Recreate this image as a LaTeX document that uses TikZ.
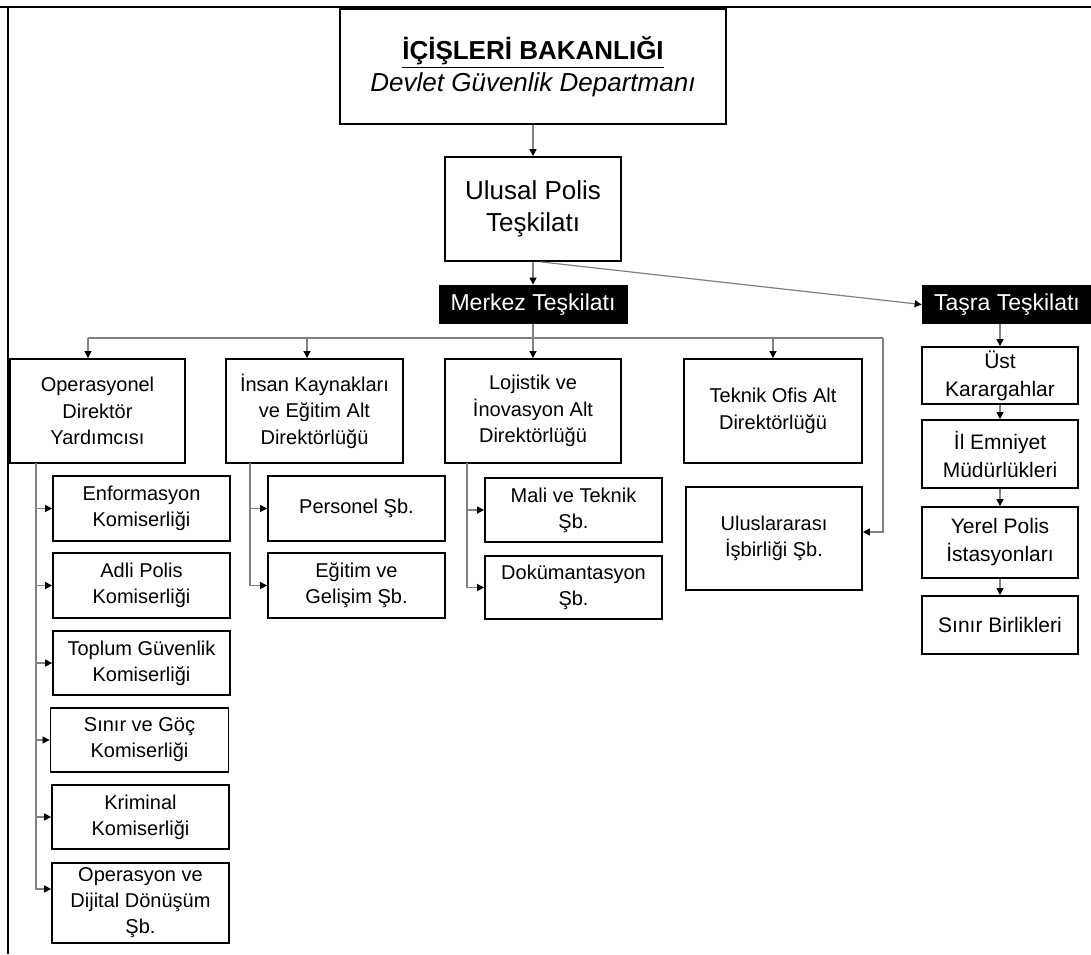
\documentclass[tikz,border=0pt]{standalone}
\usepackage{fontspec}
\setmainfont{Liberation Sans}
\usetikzlibrary{arrows.meta}
\tikzset{
  kutu/.style={draw, line width=0.9pt, align=center, inner sep=1pt, font=\fontsize{10}{13}\selectfont},
  siyah/.style={fill=black, text=white, inner sep=1pt, font=\fontsize{11.5}{13}\selectfont},
  hat/.style={draw=black!50, line width=0.6pt},
  ok/.style={hat, -{Triangle[length=3.5pt, width=3.5pt, color=black]}}
}

\begin{document}
\begin{tikzpicture}[x=0.5pt, y=-0.5pt]
			%%%%% START %%%%%
			\useasboundingbox (0, 0) rectangle (1091, 954);
			
			% frame
			\draw[line width=1pt] (0, 7) -- (1091, 7);
			\draw[line width=1pt] (8, 7) -- (8, 954);
			
			% top
			\node[kutu, minimum width=193pt, minimum height=57.5pt] (bakanlik) at (533, 66.5)
			  {\fontsize{13}{15.5}\selectfont\underline{\textbf{İÇİŞLERİ BAKANLIĞI}}\\[1pt]
			   \fontsize{13}{15.5}\selectfont\textit{Devlet Güvenlik Departmanı}};
			\node[kutu, minimum width=88pt, minimum height=52pt, font=\fontsize{13}{16}\selectfont] (ulusal) at (533, 209) {Ulusal Polis\\Teşkilatı};
			\node[siyah, minimum width=94.5pt, minimum height=19.5pt] (merkez) at (533, 304.5) {Merkez Teşkilatı};
			\node[siyah, minimum width=85pt, minimum height=19.5pt] (tasra) at (1007, 304.5) {Taşra Teşkilatı};
			
			\draw[ok] (bakanlik) -- (ulusal);
			\draw[ok] (ulusal) -- (merkez);
			\draw[ok] ([xshift=4pt]ulusal.south) -- (tasra.west);
			
			% merkez
			\node[kutu, minimum width=87.5pt, minimum height=52pt, font=\fontsize{10}{13.25}\selectfont] (opdir) at (97.5, 411) {Operasyonel\\Direktör\\Yardımcısı};
			\node[kutu, minimum width=88.5pt, minimum height=52pt, font=\fontsize{10}{13.25}\selectfont] (insan) at (314.5, 411) {İnsan Kaynakları\\ve Eğitim Alt\\Direktörlüğü};
			\node[kutu, minimum width=88pt, minimum height=52pt, font=\fontsize{10}{13.25}\selectfont] (lojistik) at (533, 411) {Lojistik ve\\İnovasyon Alt\\Direktörlüğü};
			\node[kutu, minimum width=89pt, minimum height=52pt, font=\fontsize{10}{13.25}\selectfont] (teknik) at (773, 411) {Teknik Ofis Alt\\Direktörlüğü};
			\node[kutu, minimum width=88pt, minimum height=51.5pt, font=\fontsize{10}{13.25}\selectfont] (ulus) at (774, 538.5) {Uluslararası\\İşbirliği Şb.};
			
			\coordinate (busL) at (88, 338);
			\coordinate (busR) at (883, 338);
			\coordinate (insanIn) at ([xshift=-3.75pt]insan.north);
			\draw[hat] (busL) -- (busR);
			\draw[ok] (merkez) -- (lojistik);
			\draw[ok] (busL) -- (busL |- opdir.north);
			\draw[ok] (insanIn |- busL) -- (insanIn);
			\draw[ok] (teknik.north |- busL) -- (teknik);
			\draw[ok] (busR) |- ([yshift=3.25pt]ulus.east);
			
			% operasyonel
			\node[kutu, minimum width=88.5pt, minimum height=32.5pt] (enf) at (141.5, 508.5) {Enformasyon\\Komiserliği};
			\node[kutu, minimum width=88.5pt, minimum height=32.5pt] (adli) at (141.5, 585.5) {Adli Polis\\Komiserliği};
			\node[kutu, minimum width=88.5pt, minimum height=32pt] (toplum) at (141.5, 663) {Toplum Güvenlik\\Komiserliği};
			\node[kutu, minimum width=89pt, minimum height=32pt] (sinir) at (139.5, 740) {Sınır ve Göç\\Komiserliği};
			\node[kutu, minimum width=88.5pt, minimum height=32pt] (kriminal) at (140.5, 817) {Kriminal\\Komiserliği};
			\node[kutu, minimum width=88.5pt, minimum height=40pt] (dijital) at (140.5, 903) {Operasyon ve\\Dijital Dönüşüm\\Şb.};
			
			\coordinate (opT) at (36, 463);
			\draw[ok] (opT) |- ([yshift=7pt]dijital.west);
			\foreach \k in {enf, adli, toplum, sinir, kriminal}
			  \draw[ok] (opT |- \k.west) -- (\k.west);
			
			% insan kaynaklari
			\node[kutu, minimum width=88.5pt, minimum height=32.5pt] (personel) at (356.5, 508.5) {Personel Şb.};
			\node[kutu, minimum width=88.5pt, minimum height=32.5pt] (egitim) at (356.5, 585.5) {Eğitim ve\\Gelişim Şb.};
			
			\coordinate (insT) at (250, 463);
			\draw[ok] (insT) |- (egitim.west);
			\draw[ok] (insT |- personel.west) -- (personel.west);
			
			% lojistik
			\node[kutu, minimum width=88.5pt, minimum height=32pt] (mali) at (573.5, 510) {Mali ve Teknik\\Şb.};
			\node[kutu, minimum width=88.5pt, minimum height=31.5pt] (dokuman) at (573.5, 587.5) {Dokümantasyon\\Şb.};
			
			\coordinate (lojT) at (467, 463);
			\draw[ok] (lojT) |- (dokuman.west);
			\draw[ok] (lojT |- mali.west) -- (mali.west);
			
			% tasra
			\node[kutu, minimum width=78pt, minimum height=28.5pt, font=\fontsize{10.5}{14}\selectfont] (ust) at (1000, 375.5) {Üst\\Karargahlar};
			\node[kutu, minimum width=78pt, minimum height=34pt, font=\fontsize{10.5}{14}\selectfont] (il) at (1000, 454) {İl Emniyet\\Müdürlükleri};
			\node[kutu, minimum width=78pt, minimum height=35.5pt, font=\fontsize{10.5}{14}\selectfont] (yerel) at (1000, 542.5) {Yerel Polis\\İstasyonları};
			\node[kutu, minimum width=78pt, minimum height=29pt, font=\fontsize{10.5}{14}\selectfont] (sinirb) at (1000, 625) {Sınır Birlikleri};
			
			\draw[ok] (ust.north |- tasra.south) -- (ust);
			\draw[ok] (ust) -- (il);
			\draw[ok] (il) -- (yerel);
			\draw[ok] (yerel) -- (sinirb);
			
			%%%%% END %%%%%
\end{tikzpicture}
\end{document}
